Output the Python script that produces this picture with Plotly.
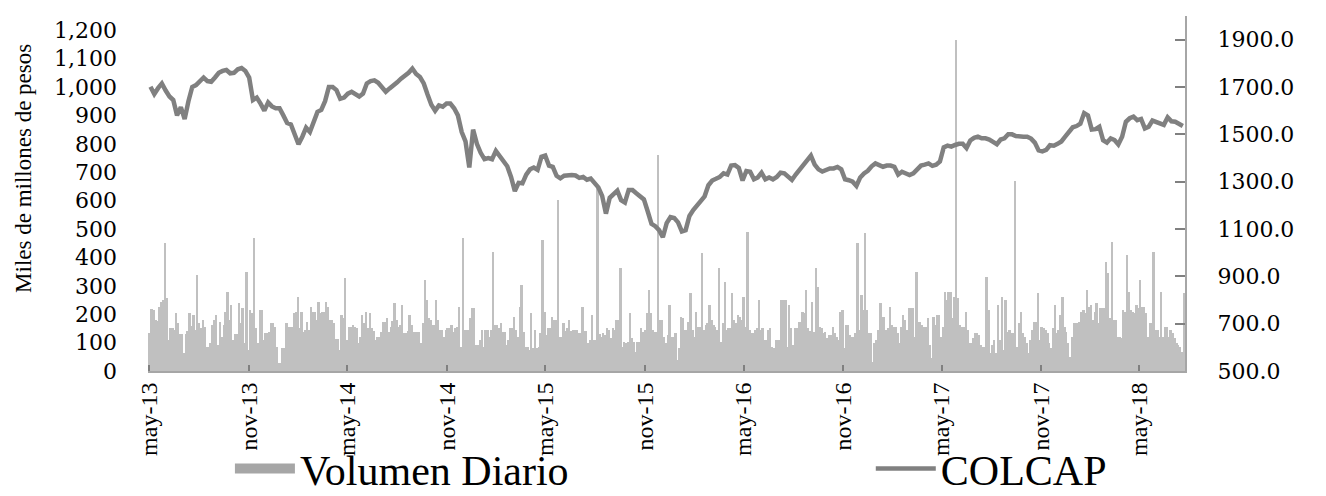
import pandas as pd
import plotly.graph_objects as go

# ---------------- data ----------------
vol_start = "2013-05-02"          # first volume observation
vol_step_hours = 84               # two observations per week
volumen = [
    135, 220, 215, 180, 175, 226, 244, 250, 450, 256,
    109, 150, 150, 145, 203, 168, 132, 130, 62, 132,
    140, 203, 160, 197, 145, 338, 168, 150, 180, 155,
    86, 86, 98, 162, 180, 197, 90, 174, 120, 162,
    209, 279, 180, 232, 109, 132, 132, 238, 168, 221,
    98, 350, 75, 215, 203, 467, 150, 97, 215, 215,
    109, 133, 133, 139, 168, 168, 156, 86, 27, 27,
    80, 80, 168, 156, 156, 156, 203, 209, 262, 150,
    209, 139, 145, 174, 145, 226, 209, 209, 180, 244,
    203, 209, 209, 244, 226, 180, 180, 168, 113, 113,
    75, 197, 185, 326, 109, 156, 156, 162,
    156, 150, 97, 120, 197, 170, 209, 150, 203, 150,
    140, 109, 121, 121, 138, 174, 174, 186, 138, 156,
    175, 238, 180, 156, 162, 232, 133, 133, 140, 197,
    162, 138, 138, 138, 138, 97, 168, 320, 250, 186,
    180, 162, 162, 250, 180, 145, 145, 121, 145, 150,
    150, 162, 138, 150, 156, 226, 86, 467, 144, 144,
    144, 186, 221, 221, 91, 91, 109, 144, 86, 144,
    144, 121, 144, 420, 162, 162, 150, 168, 138, 138,
    91, 109, 150, 150, 191, 144, 121, 226, 303, 138,
    86, 86, 74, 203, 80, 144, 80, 86, 133, 461,
    209, 127, 150, 150, 191, 180, 180, 602, 121,
    121, 168, 140, 150, 180, 140, 144, 144, 144, 133,
    133, 226, 140, 140, 97, 109, 197, 109, 109, 645,
    130, 121, 133, 127, 150, 144, 115, 150, 144, 180,
    180, 362, 86, 103, 97, 103, 203, 115, 103, 68,
    103, 103, 150, 138, 144, 203, 285, 203, 144, 138,
    138, 760, 180, 180, 121, 97, 127, 232, 121, 121,
    133, 39, 80, 191, 185, 144, 144, 174, 273, 144,
    121, 209, 156, 156, 414, 144, 162, 168, 232, 180,
    162, 156, 144, 362, 103, 168, 315, 144, 150, 150,
    273, 180, 168, 197, 191, 180, 262, 156, 490, 144,
    133, 133, 144, 150, 250, 144, 150, 109, 109, 144,
    150, 86, 80, 109, 109, 109, 250, 250, 250, 86,
    232, 150, 91, 150, 150, 174, 174, 209, 203, 285,
    150, 140, 244, 138, 362, 297, 156, 150, 133, 138,
    115, 127, 127, 156, 133, 121, 109, 209, 215, 80,
    162, 162, 127, 121, 121, 133, 450, 144, 268, 215,
    485, 215, 133, 133, 33, 97, 109, 144, 238, 191,
    191, 144, 150, 226, 162, 156, 156, 133, 97, 156,
    197, 180, 144, 221, 221, 221, 121, 350, 174, 174,
    162, 156, 156, 186, 91, 45, 191, 162, 197, 197,
    121, 156, 279, 250, 279, 279, 185, 262, 1165, 256,
    162, 156, 156, 209, 144, 97, 97, 115, 133, 133,
    127, 91, 86, 86, 332, 215, 62, 91, 109, 62,
    232, 109, 262, 75, 250, 138, 144, 133, 133, 670,
    86, 168, 209, 133, 121, 97, 62, 109, 144, 174,
    174, 273, 109, 156, 150, 144, 133, 97, 80, 150,
    232, 133, 144, 197, 262, 156, 138, 97, 51, 121,
    168, 168, 168, 174, 209, 215, 203, 285, 226, 232,
    180, 209, 238, 168, 221, 221, 221, 385, 344, 186,
    456, 180, 180, 121, 121, 115, 215, 209, 409, 279,
    215, 209, 203, 232, 221, 320, 226, 226, 203, 121,
    168, 168, 420, 144, 144, 121, 279, 121, 156, 156,
    121, 144, 133, 115, 97, 91, 86, 68, 273,
]

colcap_start = "2013-05-03"       # weekly closes (Fridays)
colcap = [
    1701, 1670, 1695, 1715, 1685, 1660, 1645, 1580, 1615, 1565,
    1640, 1700, 1708, 1726, 1740, 1725, 1722, 1740, 1760, 1768,
    1772, 1758, 1760, 1775, 1780, 1768, 1740, 1645, 1655, 1630,
    1600, 1635, 1618, 1610, 1610, 1580, 1548, 1542, 1495, 1458,
    1490, 1528, 1510, 1560, 1595, 1603, 1640, 1700, 1700, 1687,
    1650, 1655, 1672, 1680, 1668, 1660, 1672, 1715, 1725, 1728,
    1718, 1695, 1680, 1694, 1705, 1720, 1735, 1745, 1760, 1778,
    1755, 1742, 1715, 1668, 1625, 1600, 1622, 1617, 1630, 1630,
    1610, 1580, 1510, 1470, 1360, 1520, 1460, 1422, 1395, 1400,
    1395, 1430, 1410, 1385, 1365, 1320, 1260, 1295, 1293, 1330,
    1352, 1360, 1350, 1405, 1410, 1368, 1363, 1325, 1314, 1325,
    1328, 1328, 1326, 1316, 1320, 1308, 1313, 1295, 1276, 1240,
    1165, 1232, 1250, 1262, 1222, 1212, 1265, 1265, 1251, 1240,
    1225, 1175, 1122, 1112, 1095, 1065, 1125, 1150, 1146, 1128,
    1090, 1095, 1155, 1180, 1200, 1222, 1238, 1285, 1305, 1312,
    1320, 1335, 1330, 1368, 1370, 1358, 1305, 1345, 1342, 1310,
    1318, 1338, 1310, 1318, 1310, 1320, 1338, 1335, 1322, 1307,
    1330, 1352, 1370, 1390, 1410, 1372, 1352, 1343, 1352, 1356,
    1356, 1362, 1352, 1310, 1306, 1300, 1282, 1318, 1335, 1346,
    1365, 1377, 1370, 1363, 1368, 1368, 1363, 1330, 1342, 1335,
    1328, 1335, 1355, 1368, 1372, 1377, 1367, 1372, 1385, 1445,
    1452, 1448, 1455, 1460, 1460, 1442, 1474, 1485, 1490, 1483,
    1483, 1478, 1468, 1458, 1478, 1483, 1500, 1500, 1493, 1490,
    1490, 1490, 1482, 1465, 1432, 1428, 1434, 1454, 1452, 1460,
    1470, 1490, 1508, 1530, 1535, 1545, 1590, 1580, 1520, 1522,
    1532, 1475, 1465, 1483, 1476, 1457, 1490, 1553, 1568, 1575,
    1560, 1565, 1525, 1532, 1558, 1553, 1545, 1540, 1572, 1555,
    1553, 1545, 1535,
]

tick_dates = ["2013-05-01", "2013-11-01", "2014-05-01", "2014-11-01",
              "2015-05-01", "2015-11-01", "2016-05-01", "2016-11-01",
              "2017-05-01", "2017-11-01", "2018-05-01"]
tick_labels = ["may-13", "nov-13", "may-14", "nov-14", "may-15", "nov-15",
               "may-16", "nov-16", "may-17", "nov-17", "may-18"]
left_ticks = list(range(0, 1201, 100))
right_ticks = list(range(500, 1901, 200))

# ---------------- figure ----------------
vol_dates = pd.date_range(vol_start, periods=len(volumen), freq=f"{vol_step_hours}h")
colcap_dates = pd.date_range(colcap_start, periods=len(colcap), freq="7D")

BAR_COLOR = "#c0c0c0"
LINE_COLOR = "#808080"
SERIF = "Liberation Serif"
LEGEND_FONT = dict(family=SERIF, size=42, color="black")

fig = go.Figure()
fig.add_trace(go.Bar(
    x=vol_dates, y=volumen, name="Volumen Diario",
    marker=dict(color=BAR_COLOR, line=dict(width=0)),
    width=vol_step_hours * 3600 * 1000, showlegend=False, yaxis="y",
))
# legend proxy for the volume bars (wide gray swatch)
fig.add_trace(go.Scatter(
    x=[None], y=[None], mode="lines", name="Volumen Diario",
    line=dict(color="#a6a6a6", width=18), yaxis="y", legend="legend",
))
fig.add_trace(go.Scatter(
    x=colcap_dates, y=colcap, mode="lines", name="COLCAP",
    line=dict(color=LINE_COLOR, width=4.5), yaxis="y2", legend="legend2",
))

fig.update_layout(
    width=1318, height=488,
    margin=dict(l=140, r=141, t=8, b=125, autoexpand=False),
    paper_bgcolor="white", plot_bgcolor="white",
    bargap=0,
    font=dict(family=SERIF, color="black"),
    xaxis=dict(
        type="date",
        range=["2013-04-28 10:00", "2018-07-24"],
        tickvals=tick_dates, ticktext=tick_labels,
        tickangle=-90,
        tickfont=dict(family=SERIF, size=24, color="black"),
        ticks="inside", ticklen=6, tickwidth=2, tickcolor="#808080",
        showline=True, linecolor="#a6a6a6", linewidth=2,
        showgrid=False, zeroline=False, automargin=False,
    ),
    yaxis=dict(
        range=[0, 1250],
        tickvals=left_ticks, tickformat=",",
        tickfont=dict(family="DejaVu Serif", size=22, color="black"),
        showline=False, showgrid=False, zeroline=False, ticks="",
        ticklabelstandoff=30, automargin=False,
    ),
    yaxis2=dict(
        range=[500, 2000], overlaying="y", side="right",
        tickvals=right_ticks, tickformat=".1f",
        tickfont=dict(family="DejaVu Serif", size=22, color="black"),
        showline=True, linecolor="#a6a6a6", linewidth=2,
        ticks="inside", ticklen=10, tickwidth=1.5, tickcolor="#808080",
        showgrid=False, zeroline=False,
        ticklabelstandoff=26, automargin=False,
    ),
    legend=dict(
        orientation="h", xref="paper", yref="paper",
        x=0.079, y=-0.275, xanchor="left", yanchor="middle",
        font=LEGEND_FONT, itemwidth=60, bgcolor="rgba(0,0,0,0)",
    ),
    legend2=dict(
        orientation="h", xref="paper", yref="paper",
        x=0.697, y=-0.275, xanchor="left", yanchor="middle",
        font=LEGEND_FONT, itemwidth=60, bgcolor="rgba(0,0,0,0)",
    ),
    annotations=[dict(
        text="Miles de millones de pesos", textangle=-90,
        xref="paper", yref="paper", x=-0.1196, y=0.572,
        xanchor="center", yanchor="middle", showarrow=False,
        font=dict(family=SERIF, size=23, color="black"),
    )],
)

fig.write_html("out.html")
